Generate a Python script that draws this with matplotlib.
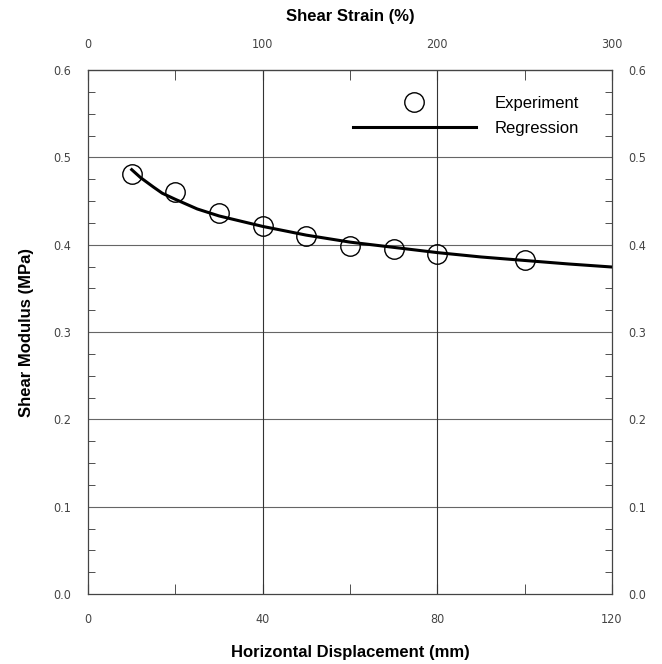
import matplotlib
matplotlib.use("Agg")
import matplotlib.pyplot as plt
from matplotlib.ticker import MultipleLocator

# experiment points
disp_mm = [10, 20, 30, 40, 50, 60, 70, 80, 100]
modulus = [0.481, 0.460, 0.436, 0.421, 0.410, 0.399, 0.395, 0.389, 0.383]

# regression curve
reg_x = [10, 12, 15, 17, 20, 25, 30, 40, 50, 60, 70, 80, 90, 100, 110, 120]
reg_y = [0.486, 0.477, 0.466, 0.459, 0.452, 0.441, 0.433, 0.421, 0.411, 0.403,
         0.397, 0.391, 0.386, 0.382, 0.378, 0.3745]

x_ticks = [0, 40, 80, 120]
strain_ticks = [0, 100, 200, 300]
y_ticks = [0.0, 0.1, 0.2, 0.3, 0.4, 0.5, 0.6]

tick_font = ['DejaVu Sans']
bold_font = ['Liberation Sans', 'DejaVu Sans']

fig = plt.figure(figsize=(6.62, 6.64), dpi=100)
ax = fig.add_axes([0.133, 0.1054, 0.7915, 0.789])

# grid
for y in y_ticks[1:-1]:
    ax.axhline(y, color='#666666', lw=0.8, zorder=1)
for x in x_ticks[1:-1]:
    ax.axvline(x, color='#333333', lw=0.8, zorder=1)

ax.plot(reg_x, reg_y, color='black', lw=2.2, label='Regression', zorder=3)
ax.plot(disp_mm, modulus, 'o', ms=14, mfc='none', mec='black', mew=1.0,
        label='Experiment', zorder=4)

ax.set_xlim(0, 120)
ax.set_ylim(0, 0.6)
ax.set_xticks(x_ticks)
ax.set_yticks(y_ticks)
ax.set_yticklabels([f"{v:.1f}" for v in y_ticks])
ax.xaxis.set_minor_locator(MultipleLocator(20))
ax.yaxis.set_minor_locator(MultipleLocator(0.025))
ax.tick_params(which='both', direction='in', right=True, labelright=True,
               colors='#333333', labelcolor='#444444')
ax.tick_params(axis='x', which='major', length=7, pad=14, labelsize=9)
ax.tick_params(axis='x', which='minor', length=7)
ax.tick_params(axis='y', which='major', length=0, pad=12, labelsize=9)
ax.tick_params(axis='y', which='minor', length=5)
for lab in ax.get_xticklabels() + ax.get_yticklabels():
    lab.set_family(tick_font)
    lab.set_stretch('condensed')
for sp in ax.spines.values():
    sp.set_color('#444444')
    sp.set_linewidth(0.9)

top = ax.secondary_xaxis('top', functions=(lambda v: v * 2.5, lambda v: v / 2.5))
top.set_xticks(strain_ticks)
top.xaxis.set_minor_locator(MultipleLocator(50))
top.tick_params(which='both', direction='in', length=7, pad=14, labelsize=9,
                colors='#333333', labelcolor='#444444')
for lab in top.get_xticklabels():
    lab.set_family(tick_font)
    lab.set_stretch('condensed')
top.set_xlabel('Shear Strain (%)', fontsize=12, fontweight='bold',
               family=bold_font, labelpad=12)

ax.set_xlabel('Horizontal Displacement (mm)', fontsize=12, fontweight='bold',
              family=bold_font, labelpad=13)
ax.set_ylabel('Shear Modulus (MPa)', fontsize=12, fontweight='bold',
              family=bold_font, labelpad=14)

handles, labels = ax.get_legend_handles_labels()
ax.legend(handles[::-1], labels[::-1], loc='upper right', frameon=False,
          handlelength=7.4, handletextpad=1.1,
          prop={'family': bold_font[0], 'size': 12},
          bbox_to_anchor=(0.965, 0.98), labelspacing=0.6)

fig.savefig('out.png', dpi=100)
